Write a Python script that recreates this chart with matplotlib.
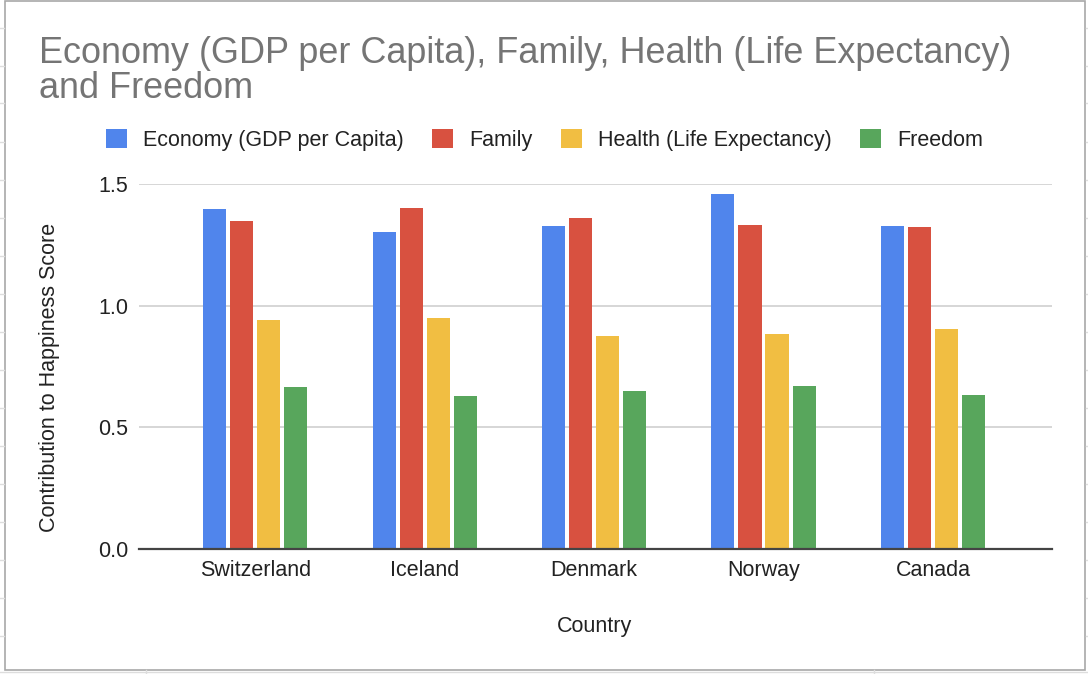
import matplotlib
matplotlib.use("Agg")
import matplotlib.pyplot as plt
import numpy as np
from matplotlib.patches import Patch, Rectangle
from matplotlib.lines import Line2D

countries = ["Switzerland", "Iceland", "Denmark", "Norway", "Canada"]
series_names = ["Economy (GDP per Capita)", "Family", "Health (Life Expectancy)", "Freedom"]
economy = [1.39651, 1.30232, 1.32548, 1.45900, 1.32629]
family = [1.34951, 1.40223, 1.36058, 1.33095, 1.32261]
health = [0.94143, 0.94784, 0.87464, 0.88521, 0.90563]
freedom = [0.66557, 0.62877, 0.64938, 0.66973, 0.63297]
yticks = [0.0, 0.5, 1.0, 1.5]
ytick_labels = ["0.0", "0.5", "1.0", "1.5"]

colors = ["#5085EC", "#D85140", "#F1BE42", "#58A65C"]

W, H = 1088, 674
fig = plt.figure(figsize=(W / 100, H / 100), dpi=100)
fig.patch.set_facecolor("white")

def fx(px):
    return px / W

def fy(py):
    return 1 - py / H

plt.rcParams["font.family"] = ["Liberation Sans", "DejaVu Sans"]

# chart frame and spreadsheet grid behind
fig.add_artist(Rectangle((fx(4.5), fy(669.5)), fx(1085) - fx(4.5), fy(0.5) - fy(669.5),
                         transform=fig.transFigure, fill=False, edgecolor="#a8a8a8", lw=1.2))
for yy in [28, 66, 103, 142, 180, 218, 256, 294, 332, 370, 408, 446, 484, 522, 560, 598, 636]:
    fig.add_artist(Line2D([0, fx(4)], [fy(yy), fy(yy)], transform=fig.transFigure, color="#dddddd", lw=1))
    fig.add_artist(Line2D([fx(1086), 1], [fy(yy), fy(yy)], transform=fig.transFigure, color="#dddddd", lw=1))
for xx in [146, 874]:
    fig.add_artist(Line2D([fx(xx), fx(xx)], [0, fy(670)], transform=fig.transFigure, color="#dddddd", lw=1))
fig.add_artist(Line2D([0, 1], [fy(672), fy(672)], transform=fig.transFigure, color="#dddddd", lw=1))

ax = fig.add_axes([fx(139.3), fy(549), fx(1052.3) - fx(139.3), fy(184) - fy(549)])
ax.set_facecolor("none")

x = np.arange(len(countries))
step = 0.1595
bw = 0.136
all_series = [economy, family, health, freedom]
for i, (vals, c) in enumerate(zip(all_series, colors)):
    ax.bar(x + (i - 1.5) * step, vals, width=bw, color=c, zorder=3, linewidth=0)

fs = 15.5
ax.set_xlim(-0.685, 4.705)
ax.set_ylim(0, 1.5)
ax.set_yticks(yticks)
ax.set_yticklabels(ytick_labels)
ax.set_xticks(x)
ax.set_xticklabels(countries)
ax.tick_params(axis="both", length=0, labelsize=fs, labelcolor="#222222")
ax.tick_params(axis="y", pad=8)
ax.tick_params(axis="x", pad=8)
ax.grid(axis="y", color="#d0d0d0", lw=1.2, zorder=0)
for s in ["top", "right", "left"]:
    ax.spines[s].set_visible(False)
ax.spines["bottom"].set_color("#444444")
ax.spines["bottom"].set_linewidth(1.6)
ax.spines["bottom"].set_zorder(4)

# title
title_color = "#757575"
fig.text(fx(39), fy(63), "Economy (GDP per Capita), Family, Health (Life Expectancy)",
         fontsize=25.9, color=title_color, ha="left", va="baseline")
fig.text(fx(39), fy(98), "and Freedom", fontsize=25.9, color=title_color, ha="left", va="baseline")

# axis titles
fig.text(fx(595), fy(632), "Country", fontsize=fs, color="#222222", ha="center", va="baseline")
fig.text(fx(50), fy(377), "Contribution to Happiness Score", fontsize=fs, color="#222222",
         ha="center", va="center", rotation=90)

handles = [Patch(facecolor=c, edgecolor="none") for c in colors]
fig.legend(handles, series_names, loc="center left", bbox_to_anchor=(fx(105.7), fy(140)),
           ncol=4, frameon=False, fontsize=fs, handlelength=0.975, handleheight=0.975,
           handletextpad=0.745, columnspacing=1.32, borderpad=0, borderaxespad=0,
           labelcolor="#222222")

fig.savefig("out.png", dpi=100)
